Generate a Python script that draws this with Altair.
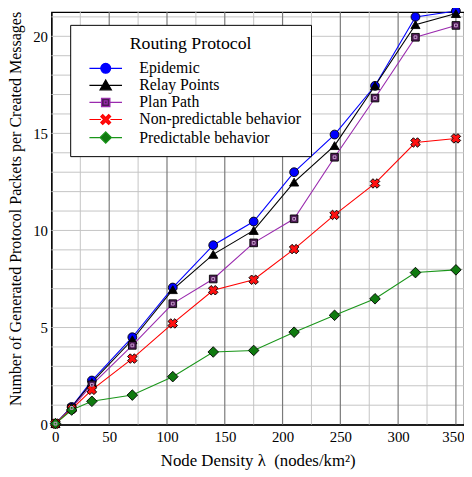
import altair as alt
import pandas as pd

series = ["Epidemic", "Relay Points", "Plan Path", "Non-predictable behavior", "Predictable behavior"]
x_vals = [3.5, 17.5, 35, 70, 105, 140, 175, 210, 245, 280, 315, 350]
epidemic = [0.05, 0.91, 2.27, 4.50, 7.06, 9.24, 10.46, 13.00, 14.94, 17.45, 21.00, 21.30]
relay = [0.05, 0.90, 2.17, 4.37, 6.95, 8.77, 10.00, 12.49, 14.37, 17.45, 20.60, 21.17]
plan = [0.05, 0.86, 2.05, 4.08, 6.23, 7.50, 9.36, 10.60, 13.77, 16.82, 19.95, 20.56]
nonpred = [0.05, 0.80, 1.79, 3.40, 5.21, 6.92, 7.46, 9.04, 10.80, 12.42, 14.53, 14.74]
pred = [0.05, 0.75, 1.20, 1.52, 2.47, 3.74, 3.82, 4.76, 5.63, 6.48, 7.83, 7.97]

x_grid = list(range(25, 357, 25))
y_grid = list(range(1, 22, 1))
x_ticks = list(range(0, 375, 50))
y_ticks = list(range(0, 25, 5))

line_colors = ["#0000ff", "#000000", "#9a2aae", "#ff0000", "#1a961a"]
fill_colors = ["#0000ff", "#000000", "#4d1a55", "#ff1010", "#0f7a0f"]
marker_shapes = ["circle", "triangle-up", "square", "cross", "diamond"]
marker_sizes = [80, 85, 60, 95, 115]
marker_angles = [0, 0, 0, 45, 0]

# legend symbols: short line + marker (unit coordinates)
legend_paths = [
    "M-3.3,0H-1M1,0H3.3M-1,0A1,1 0 1,1 1,0A1,1 0 1,1 -1,0Z",
    "M-3.3,0H3.3M0,-1.1L1.15,0.9L-1.15,0.9Z",
    "M-3.3,0H-0.85M0.85,0H3.3M-0.85,-0.85H0.85V0.85H-0.85ZM-0.3,-0.3H0.3V0.3H-0.3Z",
    "M-3.3,0H-0.95M0.95,0H3.3M-1,-0.6L-0.6,-1L0,-0.4L0.6,-1L1,-0.6L0.4,0L1,0.6L0.6,1L0,0.4L-0.6,1L-1,0.6L-0.4,0Z",
    "M-3.3,0H-1.15M1.15,0H3.3M0,-1.15L1.15,0L0,1.15L-1.15,0Z",
]

values = [epidemic, relay, plan, nonpred, pred]
rows = []
for s, v in zip(series, values):
    for xv, yv in zip(x_vals, v):
        rows.append({"x": xv, "y": yv, "series": s})
df = pd.DataFrame(rows)
xgrid_df = pd.DataFrame({"gx": x_grid, "major": [1 if v % 50 == 0 else 0 for v in x_grid]})
ygrid_df = pd.DataFrame({"gy": y_grid})

font = "Liberation Serif"

xscale = alt.Scale(domain=[0, 357], nice=False, zero=False)
yscale = alt.Scale(domain=[0, 21.25], nice=False, zero=False)

x_axis = alt.Axis(
    values=x_ticks,
    labelOverlap=False,
    grid=False,
    labelOffset={"condition": {"test": "datum.value === 350", "value": -3}, "value": 0},
    ticks=False,
    labelPadding=5,
    titlePadding=8,
    titleFontSize=17,
)
y_axis = alt.Axis(
    values=y_ticks,
    labelOverlap=False,
    grid=False,
    ticks=False,
    labelPadding=4,
    titlePadding=9,
    titleFontSize=16.2,
    titleLimit=1000,
    titleY=199,
)

x_title = "Node Density λ\u00a0 (nodes/km²)"
y_title = "Number of Generated Protocol Packets per Created Messages"


def X(field="x"):
    return alt.X(f"{field}:Q", scale=xscale, title=x_title, axis=x_axis)


def Y(field="y"):
    return alt.Y(f"{field}:Q", scale=yscale, title=y_title, axis=y_axis)


stroke_scale = alt.Scale(domain=series, range=line_colors)
fill_scale = alt.Scale(domain=series, range=fill_colors)
shape_scale = alt.Scale(domain=series, range=legend_paths)

legend = alt.Legend(
    title="Routing Protocol",
    orient="none",
    legendX=19,
    legendY=13,
    fillColor="white",
    strokeColor="black",
    padding=10,
    symbolSize=100,
    symbolOffset=18,
    symbolStrokeWidth=1.2,
    symbolOpacity=1,
    labelOffset=26,
    labelExpr="datum.label + '\u00a0\u00a0\u00a0'",
    rowPadding=1.3,
    titlePadding=8,
    titleAnchor="middle",
    titleFont=font,
    titleFontSize=18,
    titleFontWeight="normal",
    labelFont=font,
    labelFontSize=16,
    labelLimit=300,
)

vgrid_minor = (
    alt.Chart(xgrid_df)
    .transform_filter("datum.major == 0")
    .mark_rule(strokeWidth=1, color="#c4c4c4", opacity=1)
    .encode(x=X("gx"))
)
vgrid_major = (
    alt.Chart(xgrid_df)
    .transform_filter("datum.major == 1")
    .mark_rule(strokeWidth=1.2, color="#7a7a7a", opacity=1)
    .encode(x=X("gx"))
)
hgrid = (
    alt.Chart(ygrid_df)
    .mark_rule(strokeWidth=1, color="#c4c4c4", opacity=1)
    .encode(y=Y("gy"))
)

legend_layer = (
    alt.Chart(df)
    .transform_filter("false")
    .mark_point(filled=True, strokeWidth=1.2, opacity=1)
    .encode(
        x=X(),
        y=Y(),
        fill=alt.Fill("series:N", scale=fill_scale, legend=legend, sort=series),
        stroke=alt.Stroke("series:N", scale=stroke_scale, legend=legend, sort=series),
        shape=alt.Shape("series:N", scale=shape_scale, legend=legend, sort=series),
    )
)

lines = (
    alt.Chart(df)
    .mark_line(strokeWidth=1.1)
    .encode(
        x=X(),
        y=Y(),
        stroke=alt.Stroke("series:N", scale=stroke_scale, legend=legend, sort=series),
        detail="series:N",
    )
)

point_layers = []
for s, shp, sz, ang in zip(series, marker_shapes, marker_sizes, marker_angles):
    p = (
        alt.Chart(df)
        .transform_filter(alt.datum.series == s)
        .mark_point(filled=True, shape=shp, size=sz, angle=ang, stroke="black", strokeWidth=0.9, opacity=1)
        .encode(
            x=X(),
            y=Y(),
            fill=alt.Fill("series:N", scale=fill_scale, legend=legend, sort=series),
        )
    )
    point_layers.append(p)

inner = (
    alt.Chart(df)
    .transform_filter(alt.datum.series == "Plan Path")
    .mark_point(filled=False, shape="square", size=8, stroke="#c9a0d0", strokeWidth=1, opacity=1)
    .encode(x=X(), y=Y())
)

chart = (
    alt.layer(vgrid_minor, hgrid, vgrid_major, legend_layer, lines, *point_layers, inner)
    .properties(
        width=418,
        height=418,
        autosize=alt.AutoSizeParams(type="none"),
        padding={"left": 44, "top": 1, "right": 0, "bottom": 50},
    )
    .configure(font=font, background="white")
    .configure_view(stroke="black", strokeWidth=1.2)
    .configure_axis(
        labelFont=font,
        labelFontSize=15,
        labelColor="black",
        titleFont=font,
        titleFontWeight="normal",
        titleColor="black",
        domainColor="black",
        domainWidth=1.2,
    )
)

chart.save("out.html", embed_options={"renderer": "svg", "actions": False})
